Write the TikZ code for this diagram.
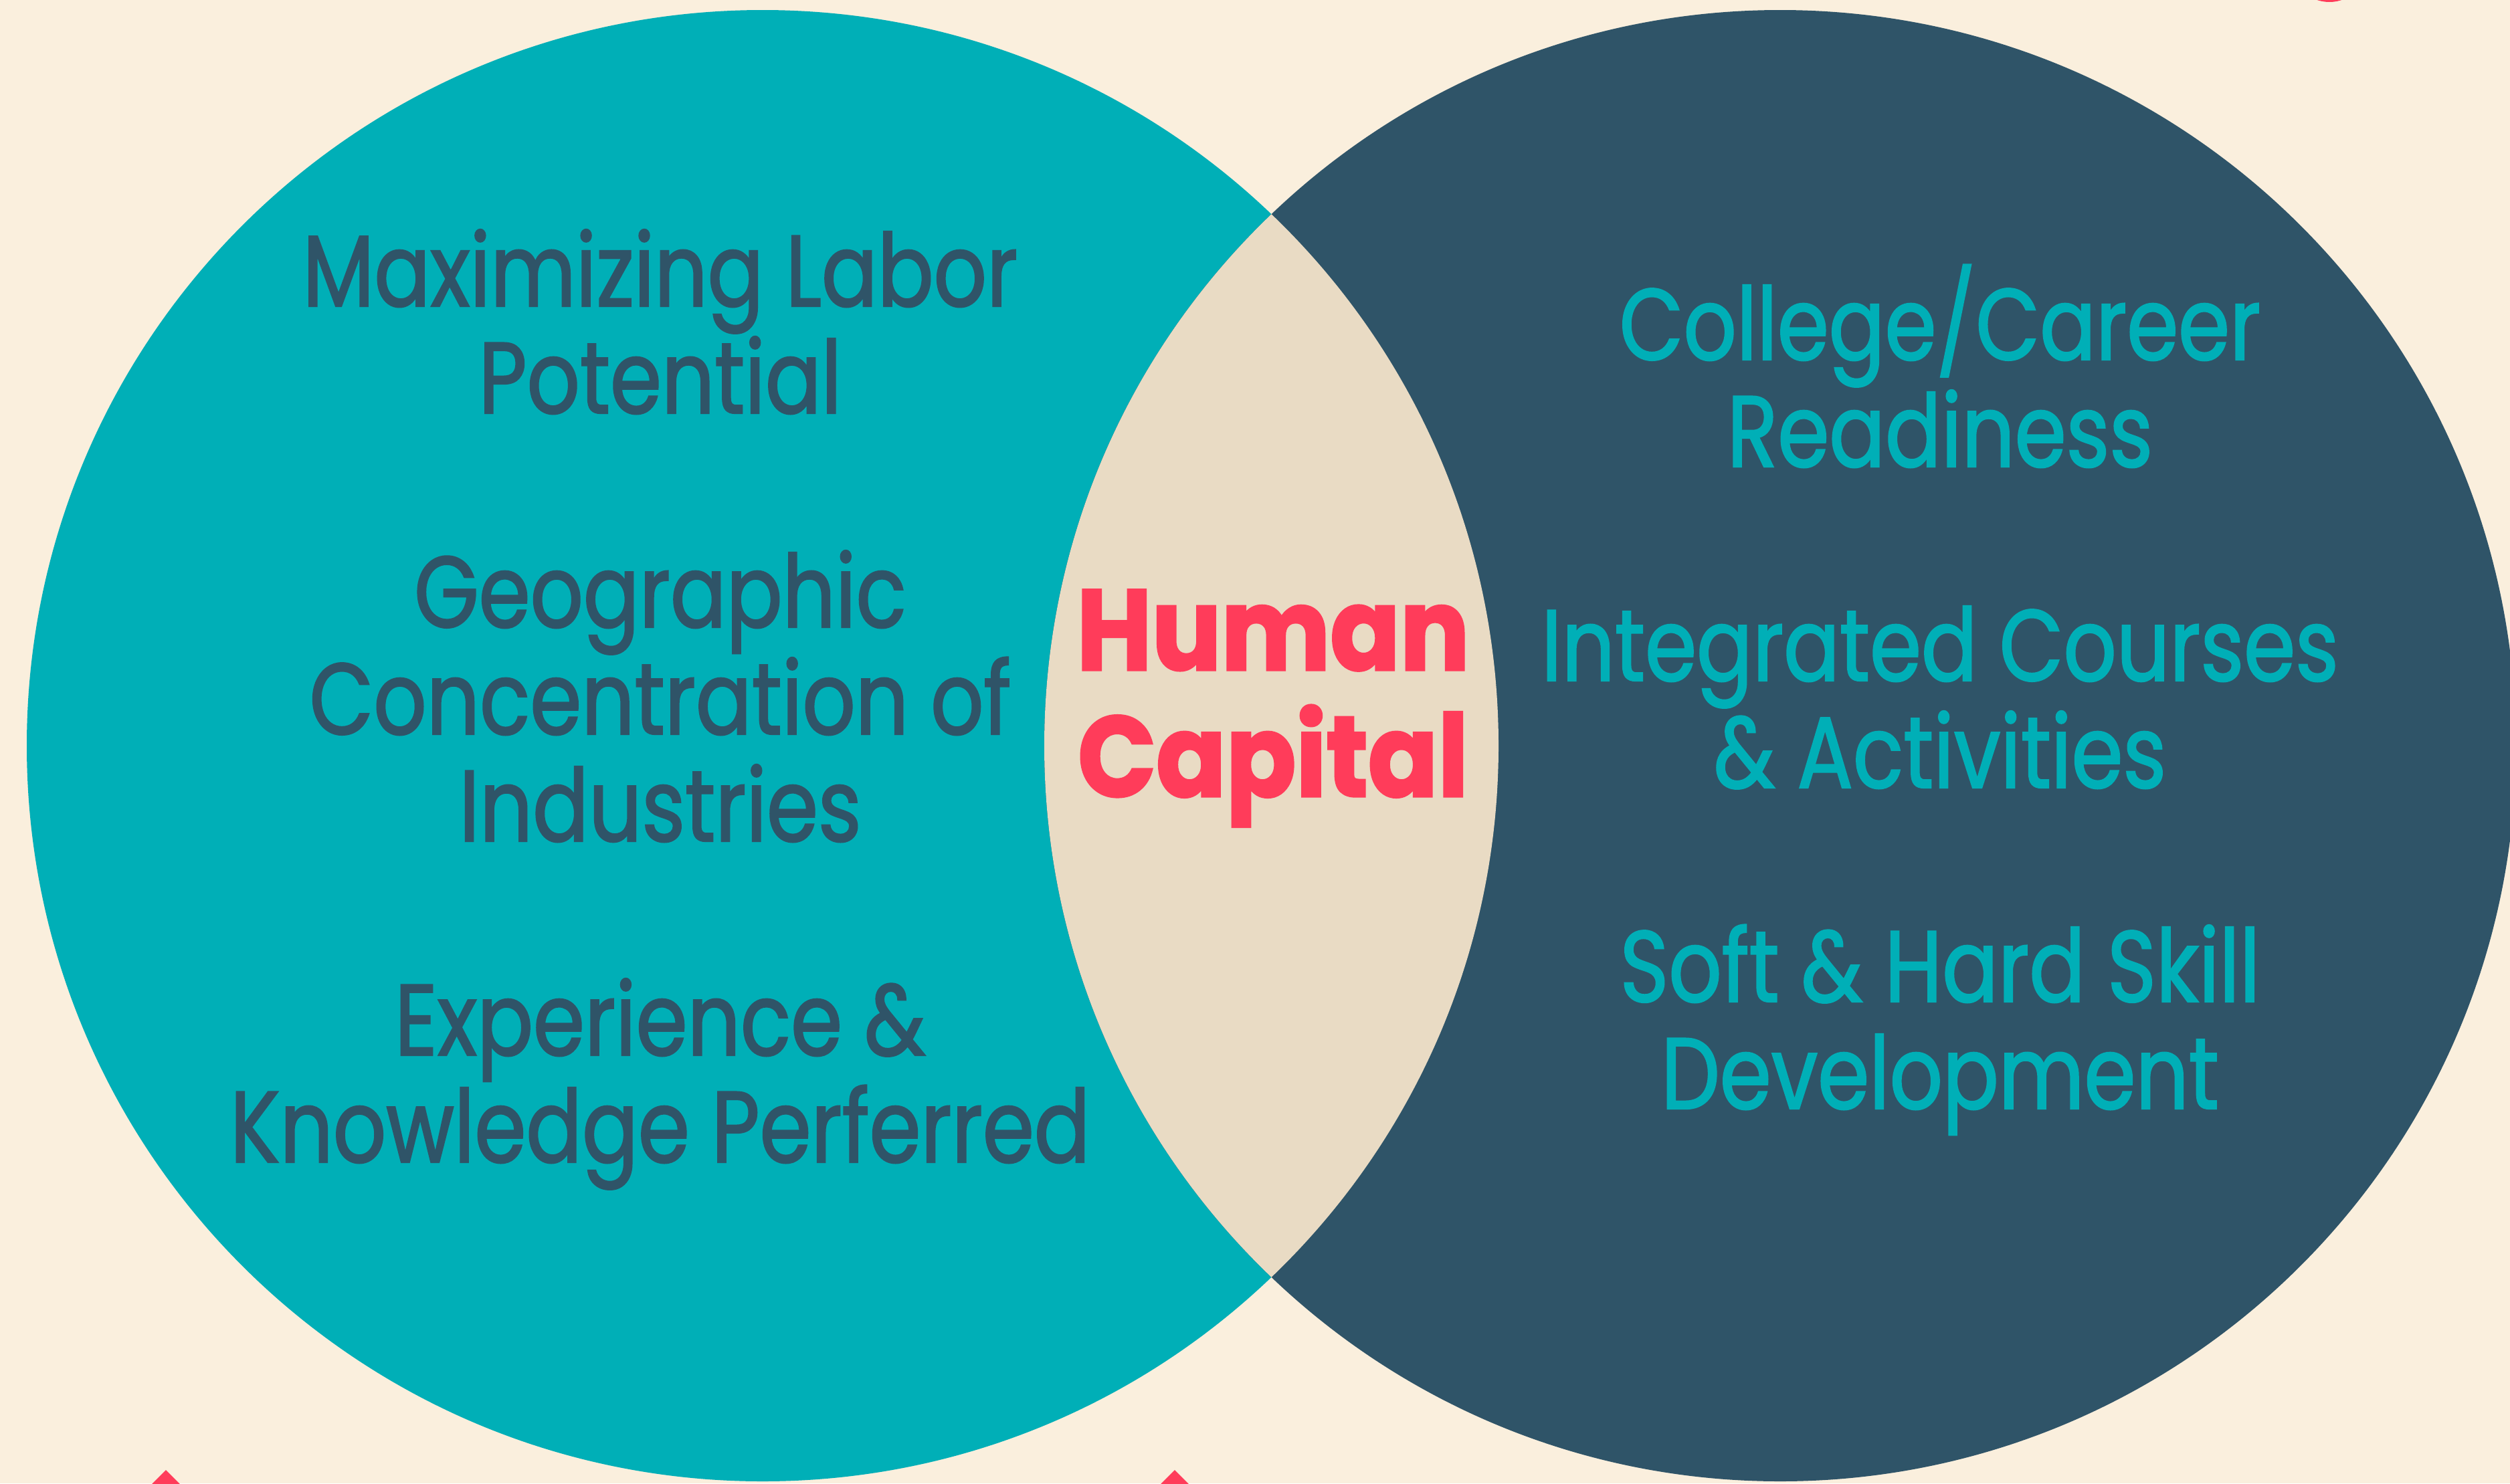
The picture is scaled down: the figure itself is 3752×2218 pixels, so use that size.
\documentclass[tikz,border=0pt]{standalone}
\usepackage{fontspec}
\setmainfont{Poppins}[FakeStretch=0.82,FakeBold=1.5]
\newfontfamily\heavyfont{Poppins}[FakeStretch=0.9,FakeBold=2]
\usepackage{tikz}
\usetikzlibrary{positioning}
\definecolor{crema}{RGB}{250, 239, 221}
\definecolor{arena}{RGB}{233, 219, 196}
\definecolor{turquesa}{RGB}{0, 175, 183}
\definecolor{pizarra}{RGB}{47, 84, 104}
\definecolor{rojo}{RGB}{255, 60, 90}
\tikzstyle{ltext}=[text=pizarra, align=center, anchor=base, inner sep=0pt,
                   font=\fontsize{43}{45.5}\selectfont]
\tikzstyle{rtext}=[text=turquesa, align=center, anchor=base, inner sep=0pt,
                   font=\fontsize{43}{45.5}\selectfont]
\tikzstyle{ctext}=[text=rojo, align=center, anchor=base, inner sep=0pt,
                   font=\heavyfont\bfseries\fontsize{48.6}{53.8}\selectfont]

\begin{document}
\begin{tikzpicture}[x=0.01cm,y=-0.01cm]

    \useasboundingbox (0,0) rectangle (3752,2218);
    \clip (0,0) rectangle (3752,2218);
    \fill[crema] (0,0) rectangle (3752,2218);

    \coordinate (lc) at (1140,1115);
    \coordinate (rc) at (2661,1115);

    % red marks at the borders
    \fill[rojo] (3482,-55) circle (58);
    \foreach \x in {248,1756}
        \fill[rojo] (\x,2198) -- ++(80,80) -- ++(-80,80) -- ++(-80,-80) -- cycle;

    \fill[turquesa] (lc) circle (1100);
    \fill[pizarra] (rc) circle (1100);
    \begin{scope}
        \clip (lc) circle (1100);
        \fill[arena] (rc) circle (1100);
    \end{scope}

    % the base anchor sits on the last line
    \draw (987,618) node(labor)[ltext]{Maximizing Labor\\Potential};
    \draw (987,1258) node(geo)[ltext]{Geographic\\Concentration of\\Industries};
    \draw (987,1738) node(exp)[ltext]{Experience \&\\Knowledge Perferred};

    \draw (2900,698) node(college)[rtext]{College/Career\\Readiness};
    \draw (2900,1178) node(courses)[rtext]{Integrated Courses\\\& Activities};
    \draw (2900,1658) node(skill)[rtext]{Soft \& Hard Skill\\Development};

    \draw (1903,1191) node(human)[ctext]{Human\\Capital};

\end{tikzpicture}
\end{document}
